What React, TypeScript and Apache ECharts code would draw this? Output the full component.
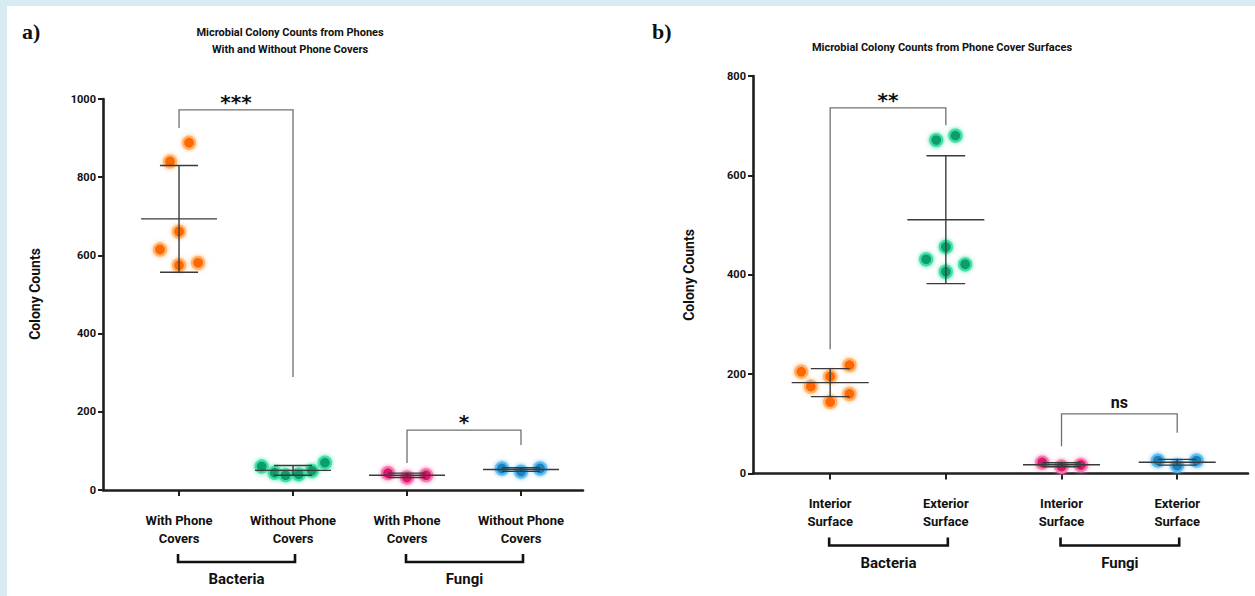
import React, { useEffect, useRef } from "react";
import * as echarts from "echarts";

// ---------- Panel a data ----------
const catsA = ["With Phone\nCovers", "Without Phone\nCovers", "With Phone\nCovers", "Without Phone\nCovers"];
const groupLabelsA = ["Bacteria", "Fungi"];
const titleA = "Microbial Colony Counts from Phones\nWith and Without Phone Covers";
const aBactWith = [888, 840, 661, 615, 575, 581];
const aBactWithJitter = [0.088, -0.079, 0, -0.167, 0, 0.167];
const aBactWithout = [60, 44, 38, 40, 49, 70];
const aBactWithoutJitter = [-0.275, -0.16, -0.065, 0.05, 0.165, 0.28];
const aFungWith = [43, 32, 38];
const aFungWithJitter = [-0.167, 0, 0.167];
const aFungWithout = [55, 47, 55];
const aFungWithoutJitter = [-0.167, 0, 0.167];
const yMaxA = 1000;
const yStepA = 200;
// significance brackets: [fromCat, toCat, topValue, leftLegEnd, rightLegEnd]
const sigA = [
  [0, 1, 972, 926, 289],
  [2, 3, 153, 69, 115],
];
const sigLabelsA = ["***", "*"];

// ---------- Panel b data ----------
const catsB = ["Interior\nSurface", "Exterior\nSurface", "Interior\nSurface", "Exterior\nSurface"];
const groupLabelsB = ["Bacteria", "Fungi"];
const titleB = "Microbial Colony Counts from Phone Cover Surfaces";
const bBactInt = [205, 218, 195, 175, 160, 144];
const bBactIntJitter = [-0.25, 0.167, 0, -0.167, 0.167, 0];
const bBactExt = [671, 680, 456, 431, 421, 406];
const bBactExtJitter = [-0.083, 0.083, 0, -0.17, 0.167, 0];
const bFungInt = [22, 14, 17];
const bFungIntJitter = [-0.167, 0, 0.167];
const bFungExt = [26, 16, 26];
const bFungExtJitter = [-0.167, 0, 0.167];
const yMaxB = 800;
const yStepB = 200;
const sigB = [
  [0, 1, 736, 250, 701],
  [2, 3, 120, 55, 82],
];
const sigLabelsB = ["**", "ns"];

const yTitle = "Colony Counts";

const FONT = "Roboto, 'Noto Sans', sans-serif";
const STARFONT = "'DejaVu Sans', sans-serif";
const SERIF = "'Liberation Serif', 'DejaVu Serif', serif";

const COLORS = [
  { core: "#ff6800", halo: "#ffb36b" },
  { core: "#0e9c6c", halo: "#3fe0a5" },
  { core: "#e0156e", halo: "#f57ab0" },
  { core: "#1a82bb", halo: "#62bbee" },
];

const mean = (a: number[]) => a.reduce((s, v) => s + v, 0) / a.length;
const sd = (a: number[]) => {
  const m = mean(a);
  return Math.sqrt(a.reduce((s, v) => s + (v - m) * (v - m), 0) / (a.length - 1));
};

function scatter(idx: number, pos: number, vals: number[], jit: number[], c: { core: string; halo: string }) {
  return {
    type: "scatter",
    xAxisIndex: idx,
    yAxisIndex: idx,
    data: vals.map((v, k) => [pos + jit[k], v]),
    symbolSize: 12,
    itemStyle: { color: c.core, borderColor: c.halo, borderWidth: 2.2, shadowBlur: 4, shadowColor: c.halo, opacity: 1 },
    z: 2,
    silent: true,
  };
}

function errorBars(idx: number, groups: number[][]) {
  return {
    type: "custom",
    xAxisIndex: idx,
    yAxisIndex: idx,
    clip: false,
    z: 5,
    silent: true,
    data: groups.map((g, i) => [i, mean(g), sd(g)]),
    encode: { x: 0, y: 1 },
    renderItem: (params: any, api: any) => {
      const x = api.value(0);
      const m = api.value(1);
      const s = api.value(2);
      const ml = api.coord([x - 0.333, m]);
      const mr = api.coord([x + 0.333, m]);
      const t = api.coord([x, m + s]);
      const b = api.coord([x, m - s]);
      const tl = api.coord([x - 0.167, m + s]);
      const tr = api.coord([x + 0.167, m + s]);
      const bl = api.coord([x - 0.167, m - s]);
      const br = api.coord([x + 0.167, m - s]);
      const st = { stroke: "#3a3a3a", lineWidth: 1.4 };
      return {
        type: "group",
        children: [
          { type: "line", shape: { x1: ml[0], y1: ml[1], x2: mr[0], y2: mr[1] }, style: st },
          { type: "line", shape: { x1: t[0], y1: t[1], x2: b[0], y2: b[1] }, style: st },
          { type: "line", shape: { x1: tl[0], y1: tl[1], x2: tr[0], y2: tr[1] }, style: st },
          { type: "line", shape: { x1: bl[0], y1: bl[1], x2: br[0], y2: br[1] }, style: st },
        ],
      };
    },
  };
}

function sigBrackets(idx: number, sig: number[][], labels: string[]) {
  return {
    type: "custom",
    xAxisIndex: idx,
    yAxisIndex: idx,
    clip: false,
    z: 4,
    silent: true,
    data: sig,
    encode: { x: [0, 1], y: [2, 3, 4] },
    renderItem: (params: any, api: any) => {
      const f = api.value(0);
      const t = api.value(1);
      const top = api.value(2);
      const le = api.value(3);
      const re = api.value(4);
      const p1 = api.coord([f, le]);
      const p2 = api.coord([f, top]);
      const p3 = api.coord([t, top]);
      const p4 = api.coord([t, re]);
      const lab = labels[params.dataIndex];
      const isStar = lab.indexOf("*") >= 0;
      return {
        type: "group",
        children: [
          {
            type: "polyline",
            shape: { points: [p1, p2, p3, p4] },
            style: { stroke: "#707070", lineWidth: 1.3, fill: "none" },
          },
          {
            type: "text",
            x: (p2[0] + p3[0]) / 2,
            y: p2[1] - (isStar ? 8 : 11),
            style: {
              text: lab,
              align: "center",
              verticalAlign: "middle",
              fontFamily: isStar ? STARFONT : FONT,
              fontWeight: "bold",
              fontSize: isStar ? 20 : 16,
              fill: "#111",
            },
          },
        ],
      };
    },
  };
}

function groupBrackets(idx: number, labels: string[]) {
  return {
    type: "custom",
    xAxisIndex: idx,
    yAxisIndex: idx,
    clip: false,
    z: 4,
    silent: true,
    data: labels.map((_, i) => [i * 2, i * 2 + 1, 0]),
    encode: { x: [0, 1], y: 2 },
    renderItem: (params: any, api: any) => {
      const a = api.coord([api.value(0), 0]);
      const b = api.coord([api.value(1), 0]);
      const y = a[1] + 72;
      const x1 = a[0] - 1;
      const x2 = b[0] + 2;
      return {
        type: "group",
        children: [
          {
            type: "polyline",
            shape: { points: [[x1, y - 8], [x1, y], [x2, y], [x2, y - 8]] },
            style: { stroke: "#111", lineWidth: 2.6, fill: "none" },
          },
          {
            type: "text",
            x: (x1 + x2) / 2,
            y: y + 17,
            style: {
              text: labels[params.dataIndex],
              align: "center",
              verticalAlign: "middle",
              fontFamily: FONT,
              fontWeight: "bold",
              fontSize: 15,
              fill: "#111",
            },
          },
        ],
      };
    },
  };
}

function xAxis(idx: number, min: number, max: number, cats: string[]) {
  return {
    type: "value",
    gridIndex: idx,
    min,
    max,
    axisLine: { show: true, onZero: false, lineStyle: { color: "#1e1e1e", width: 2.6 } },
    axisTick: { show: true, customValues: [0, 1, 2, 3], length: 6, lineStyle: { color: "#1e1e1e", width: 2 } },
    axisLabel: {
      show: true,
      customValues: [0, 1, 2, 3],
      formatter: (v: number) => cats[Math.round(v)] || "",
      margin: 21,
      fontFamily: FONT,
      fontWeight: "bold",
      fontSize: 13,
      lineHeight: 18,
      color: "#111",
    },
    splitLine: { show: false },
  };
}

function yAxis(idx: number, max: number, step: number) {
  return {
    type: "value",
    gridIndex: idx,
    min: 0,
    max,
    interval: step,
    axisLine: { show: true, onZero: false, lineStyle: { color: "#1e1e1e", width: 2.6 } },
    axisTick: { show: true, length: 5, lineStyle: { color: "#1e1e1e", width: 2 } },
    axisLabel: {
      margin: 7,
      formatter: (v: number) => String(v),
      fontFamily: FONT,
      fontWeight: "bold",
      fontSize: 11,
      color: "#111",
    },
    splitLine: { show: false },
  };
}

export default function App() {
  const ref = useRef<HTMLDivElement>(null);
  useEffect(() => {
    if (!ref.current) return;
    const chart = echarts.init(ref.current, undefined, { renderer: "svg" });
    const option: any = {
      animation: false,
      backgroundColor: "#ffffff",
      grid: [
        { left: 103, top: 99, width: 480, height: 391 },
        { left: 753, top: 76, width: 495, height: 397.5 },
      ],
      xAxis: [xAxis(0, -0.667, 3.544, catsA), xAxis(1, -0.667, 3.612, catsB)],
      yAxis: [yAxis(0, yMaxA, yStepA), yAxis(1, yMaxB, yStepB)],
      series: [
        scatter(0, 0, aBactWith, aBactWithJitter, COLORS[0]),
        scatter(0, 1, aBactWithout, aBactWithoutJitter, COLORS[1]),
        scatter(0, 2, aFungWith, aFungWithJitter, COLORS[2]),
        scatter(0, 3, aFungWithout, aFungWithoutJitter, COLORS[3]),
        errorBars(0, [aBactWith, aBactWithout, aFungWith, aFungWithout]),
        sigBrackets(0, sigA, sigLabelsA),
        groupBrackets(0, groupLabelsA),
        scatter(1, 0, bBactInt, bBactIntJitter, COLORS[0]),
        scatter(1, 1, bBactExt, bBactExtJitter, COLORS[1]),
        scatter(1, 2, bFungInt, bFungIntJitter, COLORS[2]),
        scatter(1, 3, bFungExt, bFungExtJitter, COLORS[3]),
        errorBars(1, [bBactInt, bBactExt, bFungInt, bFungExt]),
        sigBrackets(1, sigB, sigLabelsB),
        groupBrackets(1, groupLabelsB),
      ],
      graphic: [
        { type: "rect", shape: { x: 0, y: 0, width: 1255, height: 6 }, style: { fill: "#d8ebf2" }, silent: true },
        { type: "rect", shape: { x: 0, y: 0, width: 7, height: 596 }, style: { fill: "#d8ebf2" }, silent: true },
        {
          type: "text", x: 22, y: 31,
          style: { text: "a)", fontFamily: SERIF, fontWeight: "bold", fontSize: 22, fill: "#111", align: "left", verticalAlign: "middle" },
        },
        {
          type: "text", x: 652, y: 31,
          style: { text: "b)", fontFamily: SERIF, fontWeight: "bold", fontSize: 22, fill: "#111", align: "left", verticalAlign: "middle" },
        },
        {
          type: "text", x: 290, y: 40.5,
          style: { text: titleA, fontFamily: FONT, fontWeight: "bold", fontSize: 11, lineHeight: 17, fill: "#111", align: "center", verticalAlign: "middle" },
        },
        {
          type: "text", x: 942, y: 47,
          style: { text: titleB, fontFamily: FONT, fontWeight: "bold", fontSize: 11, fill: "#111", align: "center", verticalAlign: "middle" },
        },
        {
          type: "text", x: 35, y: 294, rotation: Math.PI / 2,
          style: { text: yTitle, fontFamily: FONT, fontWeight: "bold", fontSize: 14, fill: "#111", align: "center", verticalAlign: "middle" },
        },
        {
          type: "text", x: 689, y: 275, rotation: Math.PI / 2,
          style: { text: yTitle, fontFamily: FONT, fontWeight: "bold", fontSize: 14, fill: "#111", align: "center", verticalAlign: "middle" },
        },
      ],
    };
    chart.setOption(option);
    return () => chart.dispose();
  }, []);
  return (
    <div
      ref={ref}
      style={{ position: "fixed", left: 0, top: 0, width: 1255, height: 596, background: "#fff" }}
    />
  );
}
